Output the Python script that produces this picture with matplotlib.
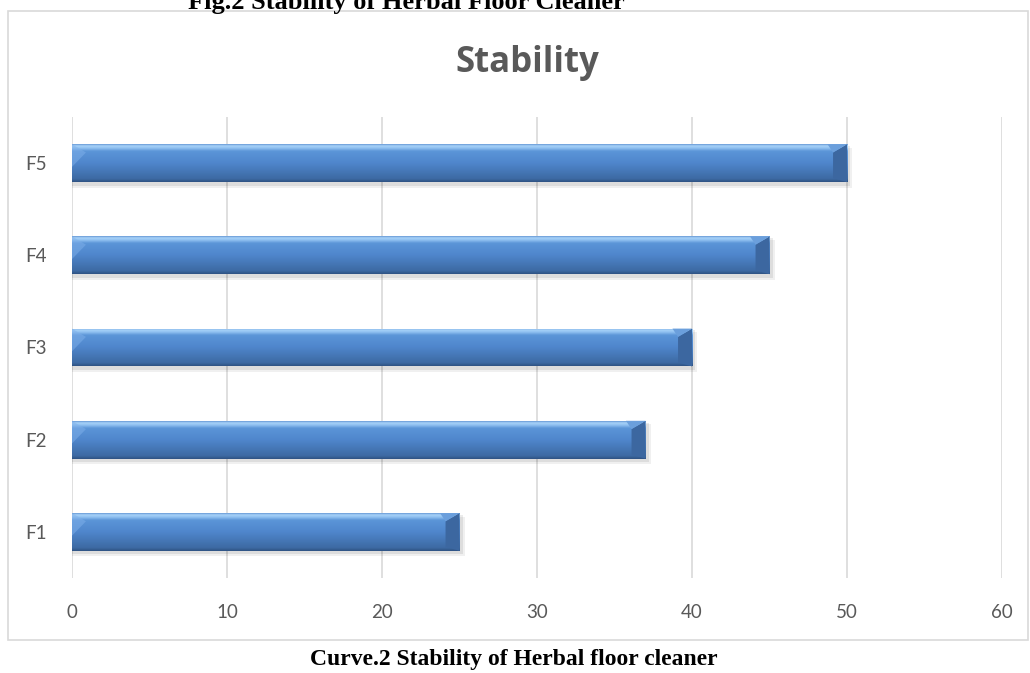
import numpy as np
import matplotlib.pyplot as plt
from matplotlib.patches import Rectangle, Polygon
from matplotlib.colors import LinearSegmentedColormap

categories = ["F1", "F2", "F3", "F4", "F5"]
stability = [25, 37, 40, 45, 50]
x_ticks = [0, 10, 20, 30, 40, 50, 60]

plt.rcParams['font.family'] = ['Lato', 'DejaVu Sans']

fig = plt.figure(figsize=(10.30, 6.73), dpi=100)

# chart frame
fig.patches.append(Rectangle((8 / 1030, 1 - 640 / 673), 1020 / 1030, 629 / 673,
                             transform=fig.transFigure, fill=False,
                             edgecolor="#d9d9d9", linewidth=1.2))

ax = fig.add_axes([72 / 1030, 1 - 578 / 673, 930 / 1030, 461 / 673])
y = np.arange(len(categories))
bar_h = 0.41

# soft shadow
for dx, dy, a in [(0.35, -0.05, 0.06), (0.2, -0.03, 0.08)]:
    ax.barh(y + dy, [v + dx for v in stability], height=bar_h + 0.02, color="#000000",
            alpha=a, zorder=2, linewidth=0)
bars = ax.barh(y, stability, height=bar_h, color="#4f81bd", zorder=3, linewidth=0)

# vertical gradient to mimic the bevel look
cmap = LinearSegmentedColormap.from_list(
    "bevel", [(0.0, "#2f5485"), (0.08, "#3d6aa3"), (0.5, "#4f86cc"),
              (0.82, "#5b95d8"), (0.9, "#8fc0f0"), (0.96, "#a7d2f8"), (1.0, "#6d9ed9")])
for b in bars:
    x0, y0, w, h = b.get_x(), b.get_y(), b.get_width(), b.get_height()
    im = ax.imshow(np.linspace(0, 1, 64).reshape(-1, 1), cmap=cmap, aspect="auto",
                   extent=[x0, x0 + w, y0, y0 + h], origin="lower", zorder=4)
    im.set_clip_path(b)
    cap = 0.9
    # bevelled right end
    ax.add_patch(Polygon([(x0 + w - cap, y0 + h * 0.1), (x0 + w, y0), (x0 + w, y0 + h),
                          (x0 + w - cap, y0 + h * 0.78)],
                         closed=True, color="#3c67a0", zorder=5, linewidth=0))
    ax.add_patch(Polygon([(x0 + w - cap, y0 + h * 0.78), (x0 + w, y0 + h),
                          (x0 + w - cap * 1.4, y0 + h)],
                         closed=True, color="#6b9fdc", zorder=5, linewidth=0))
    # subtle bevel on the left end
    ax.add_patch(Polygon([(x0, y0 + h), (x0 + cap, y0 + h * 0.78), (x0, y0 + h * 0.4)],
                         closed=True, color="#7fb0ea", zorder=5, linewidth=0, alpha=0.5))

ax.set_xlim(0, 60)
ax.set_ylim(-0.5, len(categories) - 0.5)
ax.set_xticks(x_ticks)
ax.set_yticks(y)
ax.set_yticklabels(categories)
ax.grid(axis="x", color="#d9d9d9", linewidth=1.2, zorder=0)
ax.set_axisbelow(True)
for s in ax.spines.values():
    s.set_visible(False)
ax.tick_params(length=0, labelsize=13.5, labelcolor="#595959")
ax.tick_params(axis="x", pad=19)
ax.tick_params(axis="y", pad=18)

fig.text(527 / 1030, 1 - 63 / 673, "Stability", ha="center", va="center",
         fontsize=25, fontweight="bold", color="#595959", family=["Open Sans", "DejaVu Sans"])

fig.text(406 / 1030, 1 - 9 / 673, "Fig.2 Stability of Herbal Floor Cleaner",
         ha="center", va="baseline", fontsize=19, fontweight="bold",
         family=["Liberation Serif", "DejaVu Serif"])
fig.text(514 / 1030, 1 - 665 / 673, "Curve.2 Stability of Herbal floor cleaner",
         ha="center", va="baseline", fontsize=17, fontweight="bold",
         family=["Liberation Serif", "DejaVu Serif"])

fig.savefig("out.png", dpi=100)
